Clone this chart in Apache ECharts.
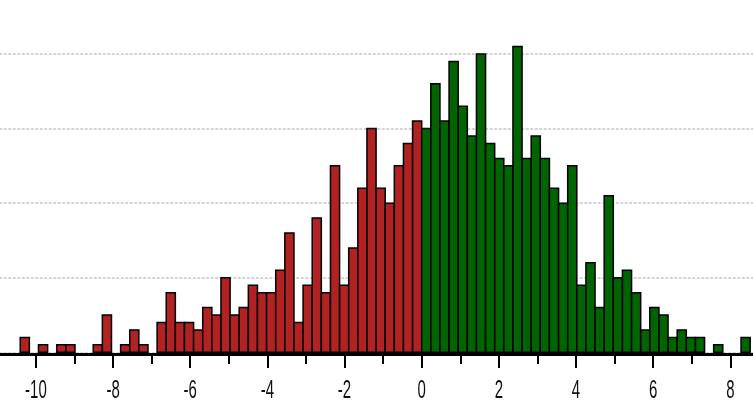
<!DOCTYPE html>
<html>
<head>
<meta charset="utf-8">
<script src="https://cdn.jsdelivr.net/npm/echarts@6/dist/echarts.min.js"></script>
<style>
html,body{margin:0;padding:0;background:#fff;}
#chart{width:753px;height:408px;}
</style>
</head>
<body>
<div id="chart"></div>
<script>
// Histogram data: bin width and counts per bin (bins with lower edge < 0 are red, >= 0 green)
const binWidth = 0.2365;
const redFirstBin = -44;   // index of first red bin (lower edge = index * binWidth)
const redCounts = [2,0,1,0,1,1,0,0,1,5,0,1,3,1,0,4,8,4,4,3,6,5,10,5,6,9,8,8,11,16,4,9,18,8,25,9,14,22,30,22,20,25,28,31];
const greenFirstBin = 0;
const greenCounts = [30,36,31,39,33,29,40,28,26,25,41,26,29,26,22,20,25,9,12,6,21,10,11,8,3,6,5,2,3,2,2,0,1,0,0,2];
const xTickLabels = ['-12','-10','-8','-6','-4','-2','0','2','4','6','8','10'];

function buildData(first, counts) {
  return counts.map((c, i) => [(first + i) * binWidth, (first + i + 1) * binWidth, c]);
}

function makeRender(fill) {
  return function (params, api) {
    const x0 = api.value(0), x1 = api.value(1), c = api.value(2);
    if (!c) return null;
    const pTop = api.coord([x0, c]);
    const pBot = api.coord([x1, 0]);
    return {
      type: 'rect',
      shape: { x: pTop[0], y: pTop[1], width: pBot[0] - pTop[0], height: pBot[1] - pTop[1] },
      style: { fill: fill, stroke: '#000', lineWidth: 1.5 }
    };
  };
}

// tick labels drawn as condensed text at the axis' own coordinates
function renderLabel(params, api) {
  const v = api.value(0);
  const p = api.coord([v, 0]);
  return {
    type: 'text',
    x: p[0],
    y: p[1] + 39,
    scaleX: 0.6,
    style: {
      text: xTickLabels[params.dataIndex],
      fill: '#111',
      font: "25px 'Liberation Sans', Arial, sans-serif",
      align: 'center',
      verticalAlign: 'middle'
    }
  };
}

const chart = echarts.init(document.getElementById('chart'));
chart.setOption({
  animation: false,
  backgroundColor: '#fff',
  grid: { left: -41.26, right: -54.5, top: -20.6, bottom: 55.7, containLabel: false, outerBoundsMode: 'none' },
  xAxis: {
    type: 'value',
    min: Number(xTickLabels[0]),
    max: Number(xTickLabels[xTickLabels.length - 1]),
    interval: 2,
    axisLine: { show: true, onZero: false, lineStyle: { color: '#000', width: 3 } },
    offset: 1.6,
    axisTick: { show: true, length: 14, lineStyle: { color: '#000', width: 2 } },
    minorTick: { show: true, splitNumber: 2, length: 10, lineStyle: { color: '#000', width: 2 } },
    splitLine: { show: false },
    axisLabel: { show: false }
  },
  yAxis: {
    type: 'value',
    min: 0,
    max: 50,
    interval: 10,
    axisLine: { show: false },
    axisTick: { show: false },
    axisLabel: { show: false },
    splitLine: { show: true, lineStyle: { color: '#d4d4d4', width: 2, type: [3, 1.5] } }
  },
  series: [
    { type: 'custom', name: 'negative', renderItem: makeRender('#b22222'), data: buildData(redFirstBin, redCounts), encode: { x: [0, 1], y: 2 } },
    { type: 'custom', name: 'positive', renderItem: makeRender('#006400'), data: buildData(greenFirstBin, greenCounts), encode: { x: [0, 1], y: 2 } },
    { type: 'custom', name: 'tickLabels', renderItem: renderLabel, clip: false, silent: true,
      data: xTickLabels.map(t => [Number(t)]), encode: { x: 0 } }
  ]
});
</script>
</body>
</html>
